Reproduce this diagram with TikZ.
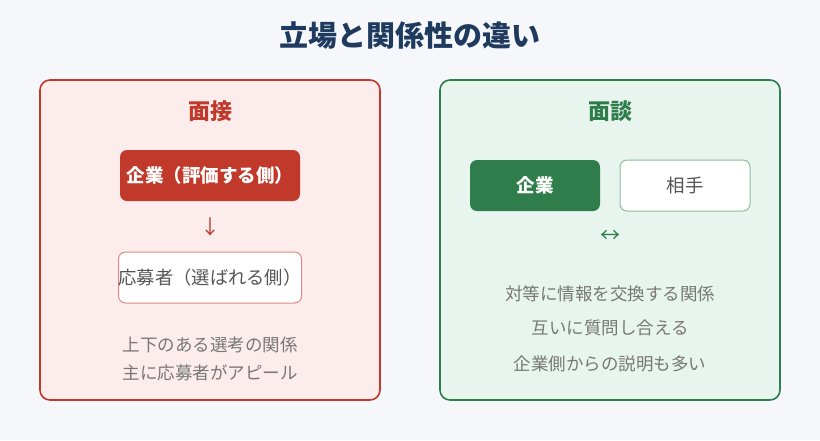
\documentclass[tikz,border=0pt]{standalone}
\usepackage{fontspec}
\setmainfont{Noto Sans CJK JP}
\definecolor{pagebg}{HTML}{F5F7FB}
\definecolor{titleblue}{HTML}{1F3A5F}
\definecolor{mensetsu}{HTML}{C0392B}
\definecolor{mensetsubg}{HTML}{FDECEC}
\definecolor{mensetsuline}{HTML}{E08A82}
\definecolor{mendan}{HTML}{2E7D4A}
\definecolor{mendanbg}{HTML}{E8F5EE}
\definecolor{mendanline}{HTML}{8CBF9C}
\definecolor{bodygray}{HTML}{777777}
\definecolor{boxgray}{HTML}{555555}
\begin{document}
\begin{tikzpicture}[x=1pt,y=-1pt,
    panel/.style={draw, line width=1.6pt, rounded corners=10pt},
    heading/.style={font=\fontsize{22}{26}\selectfont\bfseries},
    rolebox/.style={rounded corners=7pt, minimum height=51pt, inner sep=0pt},
    bodytext/.style={text=bodygray, font=\fontsize{17.5}{20}\selectfont}]
    % Background
    \fill[pagebg] (0,0) rectangle (820,440);
    \useasboundingbox (0,0) rectangle (820,440);

    % Title
    \node[text=titleblue, font=\fontsize{29}{34}\selectfont\bfseries] (title) at (410,36) {立場と関係性の違い};

    % Left panel: 面接
    \draw[panel, draw=mensetsu, fill=mensetsubg] (40,80) rectangle (380,400);
    \node[heading, text=mensetsu] (leftname) at (210,111) {面接};
    \node[rolebox, fill=mensetsu, text=white, minimum width=180pt,
          font=\fontsize{18.5}{22}\selectfont\bfseries] (company) at (210,175.5) {企業（評価する側）};
    \node[text=mensetsu, font=\fontsize{20}{22}\selectfont] (downarrow) at (210,227) {↓};
    \node[rolebox, draw=mensetsuline, line width=1pt, fill=white, text=boxgray, minimum width=180pt,
          font=\fontsize{18.3}{22}\selectfont] (applicant) at (210,277.5) {応募者（選ばれる側）};
    \node[bodytext] (leftline1) at (210,345) {上下のある選考の関係};
    \node[bodytext] (leftline2) at (210,373) {主に応募者がアピール};

    % Right panel: 面談
    \draw[panel, draw=mendan, fill=mendanbg] (440,80) rectangle (780,400);
    \node[heading, text=mendan] (rightname) at (610,111) {面談};
    \node[rolebox, fill=mendan, text=white, minimum width=130pt,
          font=\fontsize{18.5}{22}\selectfont\bfseries] (firm) at (535,185.5) {企業};
    \node[rolebox, draw=mendanline, line width=1pt, fill=white, text=boxgray, minimum width=130pt,
          font=\fontsize{18.5}{22}\selectfont] (partner) at (685,185.5) {相手};
    \node[text=mendan, font=\fontsize{20}{22}\selectfont] (botharrow) at (610,236) {↔};
    \node[bodytext] (rightline1) at (610,294) {対等に情報を交換する関係};
    \node[bodytext] (rightline2) at (610,328) {互いに質問し合える};
    \node[bodytext] (rightline3) at (610,364) {企業側からの説明も多い};
\end{tikzpicture}
\end{document}
